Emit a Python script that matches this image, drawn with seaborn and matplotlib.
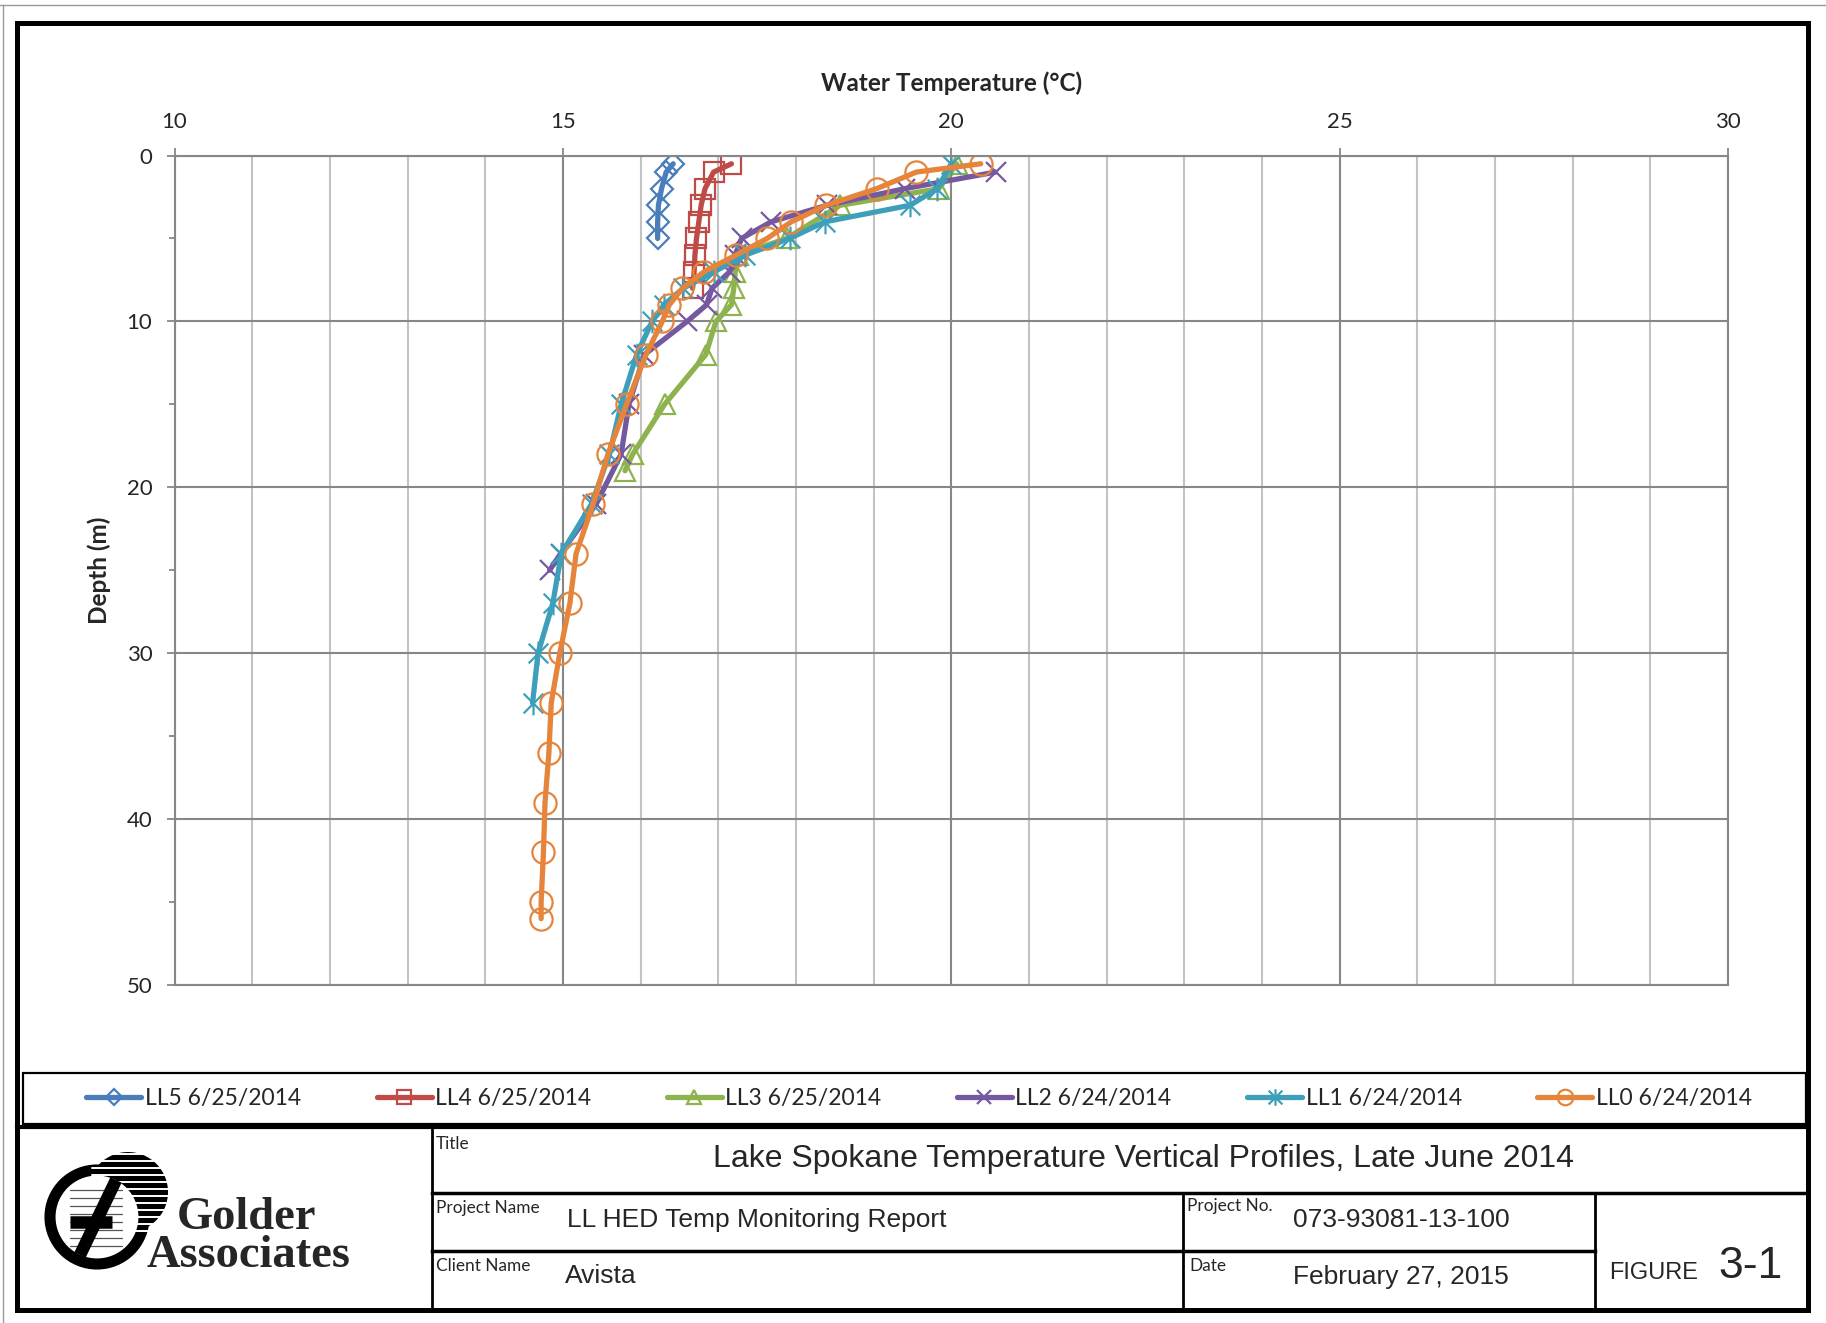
import matplotlib
matplotlib.use("Agg")
import matplotlib.pyplot as plt
from matplotlib.path import Path
from matplotlib.patches import Rectangle, Circle
from matplotlib.lines import Line2D
import seaborn as sns
import pandas as pd

# temperature profiles (depth in m, temperature in C)
ll5_depth = [0.5, 1, 2, 3, 4, 5]
ll5_temp = [16.42, 16.33, 16.27, 16.23, 16.22, 16.22]

ll4_depth = [0.5, 1, 2, 3, 4, 5, 6, 7, 8]
ll4_temp = [17.17, 16.94, 16.83, 16.78, 16.75, 16.72, 16.70, 16.69, 16.67]

ll3_depth = [0.5, 2, 3, 5, 6, 7, 8, 9, 10, 12, 15, 18, 19]
ll3_temp = [20.07, 19.84, 18.57, 17.88, 17.25, 17.22, 17.20, 17.17, 16.97, 16.84, 16.31, 15.90, 15.80]

ll2_depth = [1, 2, 3, 4, 5, 6, 7, 8, 9, 10, 12, 15, 18, 21, 24, 25]
ll2_temp = [20.57, 19.40, 18.40, 17.68, 17.30, 17.22, 17.15, 16.92, 16.85, 16.60, 16.05, 15.85,
            15.75, 15.43, 14.97, 14.83]

ll1_depth = [0.5, 2, 3, 4, 5, 6, 7, 8, 9, 10, 12, 15, 18, 21, 24, 27, 30, 33]
ll1_temp = [20.00, 19.82, 19.47, 18.37, 17.92, 17.35, 16.95, 16.55, 16.30, 16.15, 15.95, 15.75,
            15.60, 15.37, 14.98, 14.87, 14.68, 14.61]

ll0_depth = [0.5, 1, 2, 3, 4, 5, 6, 7, 8, 9, 10, 12, 15, 18, 21, 24, 27, 30, 33, 36, 39, 42, 45, 46]
ll0_temp = [20.38, 19.55, 19.04, 18.39, 17.94, 17.63, 17.23, 16.82, 16.54, 16.37, 16.28, 16.07,
            15.82, 15.58, 15.39, 15.17, 15.09, 14.96, 14.85, 14.82, 14.77, 14.75, 14.72, 14.72]

labels = ["LL5 6/25/2014", "LL4 6/25/2014", "LL3 6/25/2014",
          "LL2 6/24/2014", "LL1 6/24/2014", "LL0 6/24/2014"]
colors = ["#4A7EBB", "#BE4B48", "#8DB24E", "#7559A0", "#3E9FBA", "#E5843A"]

# excel style asterisk: an x with a vertical bar
star = Path([(-1, -1), (1, 1), (-1, 1), (1, -1), (0, -1.2), (0, 1.2)],
            [Path.MOVETO, Path.LINETO] * 3)
markers = ["D", "s", "^", "x", star, "o"]
msizes = [11, 14, 14, 15, 17, 16]

W, H = 1826, 1323


def fx(x):
    return x / W


def fy(y):
    return 1 - y / H


sns.set_theme(style="white")
plt.rcParams['font.family'] = ['Lato', 'DejaVu Sans']

fig = plt.figure(figsize=(W / 100, H / 100), dpi=100)
fig.patch.set_facecolor("white")
ax = fig.add_axes([fx(174.5), fy(985), (1728 - 174.5) / W, (985 - 155.5) / H])

series = [(ll5_depth, ll5_temp), (ll4_depth, ll4_temp), (ll3_depth, ll3_temp),
          (ll2_depth, ll2_temp), (ll1_depth, ll1_temp), (ll0_depth, ll0_temp)]

for (depth, temp), lab, col, mk, ms in zip(series, labels, colors, markers, msizes):
    df = pd.DataFrame({"temp": temp, "depth": depth})
    sns.lineplot(data=df, x="temp", y="depth", sort=False, estimator=None,
                 color=col, lw=3.8, marker=mk, markersize=ms, mfc="none",
                 mec=col, mew=1.6, label=lab, ax=ax)

# axes, ticks and grid
ax.set_xlim(10, 30)
ax.set_ylim(50, 0)
ax.xaxis.tick_top()
ax.set_xticks(range(10, 31, 5))
ax.set_xticks(range(10, 31), minor=True)
ax.set_yticks(range(0, 51, 10))
ax.set_yticks(range(5, 50, 10), minor=True)
ax.set_axisbelow(True)
ax.grid(which="major", color="#878787", lw=1.5)
ax.grid(which="minor", axis="x", color="#C3C3C3", lw=1.5)
ax.tick_params(axis="x", which="major", top=True, bottom=False, length=6, width=1.3,
               color="#878787", pad=11, labelsize=16)
ax.tick_params(axis="x", which="minor", length=0)
ax.tick_params(axis="y", which="major", left=True, length=6, width=1.3,
               color="#878787", pad=10, labelsize=16)
ax.tick_params(axis="y", which="minor", left=True, length=4, width=1.3, color="#878787")
for sp in ax.spines.values():
    sp.set_color("#878787")
    sp.set_linewidth(1.5)

ax.set_xlabel("Water Temperature (°C)", fontsize=17.5, fontweight="bold")
ax.xaxis.set_label_position("top")
ax.xaxis.label.set_va("center")
ax.xaxis.set_label_coords(0.5, (985 - 83) / (985 - 155.5))
ax.set_ylabel("Depth (m)", fontsize=17.5, fontweight="bold")
ax.yaxis.label.set_va("center")
ax.yaxis.set_label_coords((99 - 174.5) / (1728 - 174.5), 0.5)

handles, labs = ax.get_legend_handles_labels()
if ax.get_legend():
    ax.get_legend().remove()
fig.legend(handles, labs, loc="center", bbox_to_anchor=(fx(919), fy(1099)), ncol=6,
           frameon=False, fontsize=16.5, handlelength=2.4, handletextpad=0.15,
           columnspacing=3.3, numpoints=1, markerscale=0.7)


# page frame and title block
def fline(x0, y0, x1, y1, lw, color="black"):
    fig.add_artist(Line2D([fx(x0), fx(x1)], [fy(y0), fy(y1)], lw=lw, color=color,
                          solid_capstyle="projecting"))


fline(0, 5, W, 5, 1.0, "#999999")
fline(3, 5, 3, H, 1.0, "#999999")
fig.add_artist(Rectangle((fx(17), fy(1310)), (1808 - 17) / W, (1310 - 23) / H,
                         fill=False, lw=3.6, ec="black"))
fig.add_artist(Rectangle((fx(23), fy(1124)), (1806 - 23) / W, (1124 - 1073) / H,
                         fill=False, lw=1.6, ec="black"))
fline(17, 1127, 1808, 1127, 3.0)
fline(432, 1127, 432, 1308, 2.0)
fline(432, 1193, 1808, 1193, 2.5)
fline(1183, 1193, 1183, 1308, 2.0)
fline(1595, 1193, 1595, 1308, 2.0)
fline(432, 1251, 1595, 1251, 2.5)

small = dict(fontsize=12.4, va="top", ha="left", family=["Lato", "DejaVu Sans"])
big = dict(va="center", family=["Liberation Sans", "DejaVu Sans"])
fig.text(fx(436), fy(1136), "Title", **small)
fig.text(fx(1143), fy(1159), "Lake Spokane Temperature Vertical Profiles, Late June 2014",
         fontsize=23, ha="center", **big)
fig.text(fx(436), fy(1200), "Project Name", **small)
fig.text(fx(567), fy(1220), "LL HED Temp Monitoring Report", fontsize=19, ha="left", **big)
fig.text(fx(1187), fy(1198), "Project No.", **small)
fig.text(fx(1293), fy(1220), "073-93081-13-100", fontsize=19, ha="left", **big)
fig.text(fx(436), fy(1258), "Client Name", **small)
fig.text(fx(565), fy(1276), "Avista", fontsize=19, ha="left", **big)
fig.text(fx(1189), fy(1258), "Date", **small)
fig.text(fx(1293), fy(1277), "February 27, 2015", fontsize=19, ha="left", **big)
fig.text(fx(1609), fy(1273), "FIGURE", fontsize=17, ha="left", **big)
fig.text(fx(1718), fy(1267), "3-1", fontsize=32, ha="left", **big)

# company logo
lg = fig.add_axes([fx(30), fy(1300), 340 / W, 170 / H])
lg.set_xlim(30, 370)
lg.set_ylim(1300, 1130)
lg.axis("off")
lg.add_patch(Circle((128, 1192), 40, fc="black", ec="none"))
for i in range(12):
    yy = 1154 + i * 7
    lg.plot([92, 168], [yy, yy], color="white", lw=1.4)
lg.add_patch(Circle((97, 1217), 47, fill=True, fc="white", ec="black", lw=8))
for i in range(8):
    yy = 1190 + i * 8
    lg.plot([70, 122], [yy, yy], color="#555555", lw=0.9)
lg.plot([116, 80], [1180, 1255], color="black", lw=9, solid_capstyle="butt")
lg.plot([70, 112], [1222, 1222], color="black", lw=9, solid_capstyle="butt")
lg.text(177, 1229, "Golder", fontsize=33.5, fontweight="bold", va="baseline",
        family=["Liberation Serif", "DejaVu Serif"])
lg.text(146, 1267, "Associates", fontsize=33.5, fontweight="bold", va="baseline",
        family=["Liberation Serif", "DejaVu Serif"])

fig.savefig("out.png", dpi=100, facecolor="white")
